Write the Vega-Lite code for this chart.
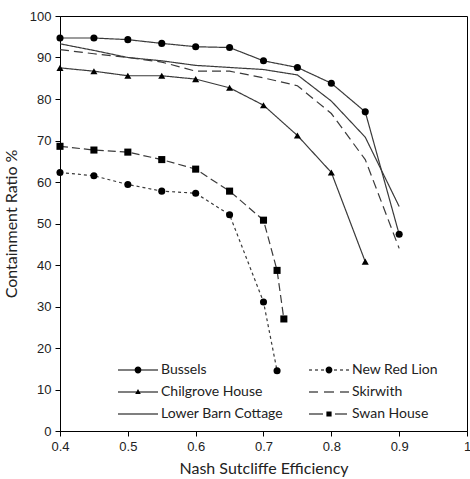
{
  "$schema": "https://vega.github.io/schema/vega-lite/v6.json",
  "width": 407,
  "height": 415,
  "autosize": "none",
  "padding": {"left": 60, "top": 16, "right": 3, "bottom": 48},
  "background": "white",
  "config": {
    "view": {"stroke": "#000000", "strokeWidth": 1},
    "axis": {
      "domainColor": "#000000", "tickColor": "#000000", "tickSize": 5, "grid": false,
      "labelFont": "Liberation Sans", "labelFontSize": 13, "labelColor": "#222222",
      "titleFont": "Lato", "titleFontSize": 16, "titleFontWeight": "normal", "titleColor": "#222222"
    }
  },
  "data": {"values": [
    {"series": "Bussels", "x": 0.4, "y": 94.7},
    {"series": "Bussels", "x": 0.45, "y": 94.7},
    {"series": "Bussels", "x": 0.5, "y": 94.3},
    {"series": "Bussels", "x": 0.55, "y": 93.4},
    {"series": "Bussels", "x": 0.6, "y": 92.6},
    {"series": "Bussels", "x": 0.65, "y": 92.4},
    {"series": "Bussels", "x": 0.7, "y": 89.2},
    {"series": "Bussels", "x": 0.75, "y": 87.6},
    {"series": "Bussels", "x": 0.8, "y": 83.8},
    {"series": "Bussels", "x": 0.85, "y": 76.9},
    {"series": "Bussels", "x": 0.9, "y": 47.4},
    {"series": "New Red Lion", "x": 0.4, "y": 62.3},
    {"series": "New Red Lion", "x": 0.45, "y": 61.5},
    {"series": "New Red Lion", "x": 0.5, "y": 59.4},
    {"series": "New Red Lion", "x": 0.55, "y": 57.8},
    {"series": "New Red Lion", "x": 0.6, "y": 57.3},
    {"series": "New Red Lion", "x": 0.65, "y": 52.1},
    {"series": "New Red Lion", "x": 0.7, "y": 31.1},
    {"series": "New Red Lion", "x": 0.72, "y": 14.5},
    {"series": "Chilgrove House", "x": 0.4, "y": 87.5},
    {"series": "Chilgrove House", "x": 0.45, "y": 86.7},
    {"series": "Chilgrove House", "x": 0.5, "y": 85.6},
    {"series": "Chilgrove House", "x": 0.55, "y": 85.6},
    {"series": "Chilgrove House", "x": 0.6, "y": 84.8},
    {"series": "Chilgrove House", "x": 0.65, "y": 82.7},
    {"series": "Chilgrove House", "x": 0.7, "y": 78.5},
    {"series": "Chilgrove House", "x": 0.75, "y": 71.2},
    {"series": "Chilgrove House", "x": 0.8, "y": 62.3},
    {"series": "Chilgrove House", "x": 0.85, "y": 40.8},
    {"series": "Skirwith", "x": 0.4, "y": 91.9},
    {"series": "Skirwith", "x": 0.45, "y": 90.9},
    {"series": "Skirwith", "x": 0.5, "y": 90.0},
    {"series": "Skirwith", "x": 0.55, "y": 88.9},
    {"series": "Skirwith", "x": 0.6, "y": 86.7},
    {"series": "Skirwith", "x": 0.65, "y": 86.7},
    {"series": "Skirwith", "x": 0.7, "y": 85.1},
    {"series": "Skirwith", "x": 0.75, "y": 83.2},
    {"series": "Skirwith", "x": 0.8, "y": 76.5},
    {"series": "Skirwith", "x": 0.85, "y": 65.4},
    {"series": "Skirwith", "x": 0.9, "y": 44.0},
    {"series": "Lower Barn Cottage", "x": 0.4, "y": 93.3},
    {"series": "Lower Barn Cottage", "x": 0.45, "y": 91.7},
    {"series": "Lower Barn Cottage", "x": 0.5, "y": 90.0},
    {"series": "Lower Barn Cottage", "x": 0.55, "y": 89.2},
    {"series": "Lower Barn Cottage", "x": 0.6, "y": 88.1},
    {"series": "Lower Barn Cottage", "x": 0.65, "y": 87.6},
    {"series": "Lower Barn Cottage", "x": 0.7, "y": 87.1},
    {"series": "Lower Barn Cottage", "x": 0.75, "y": 85.8},
    {"series": "Lower Barn Cottage", "x": 0.8, "y": 79.5},
    {"series": "Lower Barn Cottage", "x": 0.85, "y": 70.8},
    {"series": "Lower Barn Cottage", "x": 0.9, "y": 54.1},
    {"series": "Swan House", "x": 0.4, "y": 68.6},
    {"series": "Swan House", "x": 0.45, "y": 67.7},
    {"series": "Swan House", "x": 0.5, "y": 67.2},
    {"series": "Swan House", "x": 0.55, "y": 65.4},
    {"series": "Swan House", "x": 0.6, "y": 63.1},
    {"series": "Swan House", "x": 0.65, "y": 57.8},
    {"series": "Swan House", "x": 0.7, "y": 50.8},
    {"series": "Swan House", "x": 0.72, "y": 38.7},
    {"series": "Swan House", "x": 0.73, "y": 27.0}
  ]},
  "encoding": {
    "x": {"field": "x", "type": "quantitative", "title": "Nash Sutcliffe Efficiency",
      "scale": {"domain": [0.4, 1], "nice": false, "zero": false},
      "axis": {"values": [0.4, 0.5, 0.6, 0.7, 0.8, 0.9, 1], "labelExpr": "datum.value == 1 ? '1' : format(datum.value, '.1f')", "labelPadding": 4, "titlePadding": 7, "labelFlush": false}},
    "y": {"field": "y", "type": "quantitative", "title": "Containment  Ratio %",
      "scale": {"domain": [0, 100], "nice": false},
      "axis": {"values": [0, 10, 20, 30, 40, 50, 60, 70, 80, 90, 100], "labelPadding": 4, "titlePadding": 10}}
  },
  "layer": [
    {
      "mark": {"type": "line", "color": "#3a3a3a", "strokeWidth": 1.2},
      "encoding": {
        "detail": {"field": "series"},
        "strokeDash": {"field": "series", "type": "nominal", "legend": null,
          "scale": {"domain": ["Bussels", "New Red Lion", "Chilgrove House", "Skirwith", "Lower Barn Cottage", "Swan House"],
            "range": [[1, 0], [3, 3], [1, 0], [9, 5], [1, 0], [8, 4]]}}
      }
    },
    {
      "transform": [{"filter": "datum.series != 'Skirwith' && datum.series != 'Lower Barn Cottage'"}],
      "mark": {"type": "point", "filled": true, "color": "#000000", "opacity": 1},
      "encoding": {
        "shape": {"field": "series", "type": "nominal", "legend": null,
          "scale": {"domain": ["Bussels", "New Red Lion", "Chilgrove House", "Swan House"],
            "range": ["circle", "circle", "triangle-up", "square"]}},
        "size": {"field": "series", "type": "nominal", "legend": null,
          "scale": {"domain": ["Bussels", "New Red Lion", "Chilgrove House", "Swan House"],
            "range": [50, 50, 22, 26]}}
      }
    },
    {
      "mark": {"type": "point", "filled": true, "fill": "#000000", "stroke": "#000000", "strokeWidth": 1, "opacity": 0, "size": 1600},
      "encoding": {
        "shape": {"field": "series", "type": "nominal",
          "scale": {"domain": ["Bussels", "Chilgrove House", "Lower Barn Cottage", "New Red Lion", "Skirwith", "Swan House"],
            "range": [
              "M-1,-0.03H1V0.03H-1Z M-0.17,0A0.17,0.17 0 1,1 0.17,0A0.17,0.17 0 1,1 -0.17,0Z",
              "M-1,-0.03H1V0.03H-1Z M-0.14,0.1L0,-0.15L0.14,0.1Z",
              "M-1,-0.03H1V0.03H-1Z",
              "M-1,-0.03H-0.85V0.03H-1Z M-0.7,-0.03H-0.55V0.03H-0.7Z M-0.4,-0.03H-0.25V0.03H-0.4Z M0.25,-0.03H0.4V0.03H0.25Z M0.55,-0.03H0.7V0.03H0.55Z M0.85,-0.03H1V0.03H0.85Z M-0.17,0A0.17,0.17 0 1,1 0.17,0A0.17,0.17 0 1,1 -0.17,0Z",
              "M-1,-0.03H-0.55V0.03H-1Z M-0.25,-0.03H0.25V0.03H-0.25Z M0.55,-0.03H1V0.03H0.55Z",
              "M-1,-0.03H-0.3V0.03H-1Z M0.3,-0.03H0.9V0.03H0.3Z M-0.13,-0.13H0.13V0.13H-0.13Z"
            ]},
          "legend": {"title": null, "orient": "none", "legendX": 58, "legendY": 346, "columns": 2, "columnPadding": 26,
            "symbolSize": 1600, "symbolOpacity": 1, "symbolFillColor": "#000000", "symbolStrokeColor": "#000000", "symbolStrokeWidth": 0,
            "labelFont": "Lato", "labelFontSize": 14, "labelColor": "#222222", "rowPadding": 6, "symbolOffset": 0, "labelOffset": 3, "clipHeight": 16,
            "encode": {"symbols": {"fill": {"value": "#000000"}, "opacity": {"value": 1}, "fillOpacity": {"value": 1}}}}}
      }
    }
  ],
  "resolve": {"scale": {"shape": "independent", "size": "independent"}}
}
